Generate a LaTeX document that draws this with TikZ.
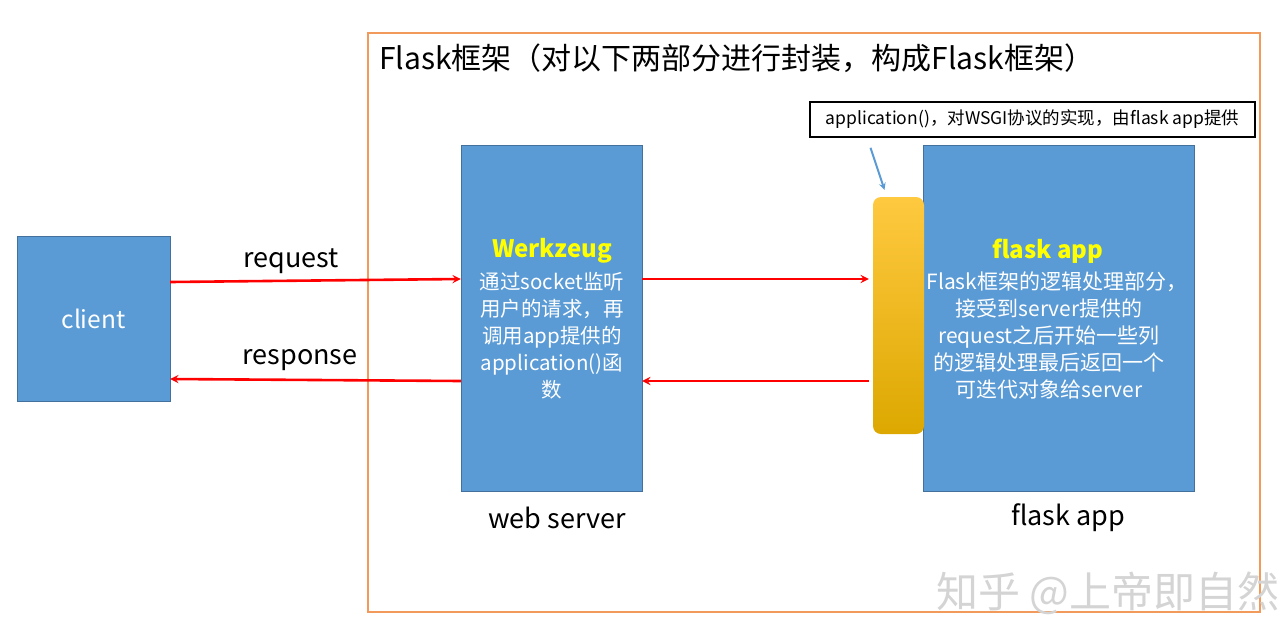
\documentclass[tikz,border=0pt]{standalone}
\usepackage{fontspec}
\setmainfont{Noto Sans CJK SC}
\definecolor{boxblue}{HTML}{5B9BD5}
\definecolor{boxedge}{HTML}{41719C}
\definecolor{frameorange}{HTML}{F19A5B}
\definecolor{flowred}{HTML}{FF0000}
\definecolor{headyellow}{HTML}{FFFF00}
\definecolor{markgray}{HTML}{D4D4D4}
\definecolor{wsgitop}{HTML}{FFC940}
\definecolor{wsgimid}{HTML}{FFC000}
\definecolor{wsgibot}{HTML}{DCA800}

\begin{document}
\begin{tikzpicture}[x=1pt,y=-1pt,>=stealth,
  blk/.style={draw=boxedge,fill=boxblue,inner sep=0pt,text=white},
  flow/.style={draw=flowred,line width=2.6pt},
  big/.style={font=\fontsize{27}{30}\selectfont,inner sep=0pt},
  head/.style={font=\fontsize{24}{28}\selectfont\bfseries,text=headyellow,inner sep=0pt},
  body/.style={text=white,align=center,inner sep=0pt}]
\useasboundingbox (0,0) rectangle (1288,627);

% framework border
\draw[frameorange,line width=1.4pt] (368,33) rectangle (1260,612);
\node[font=\fontsize{30}{34}\selectfont,inner sep=0pt,anchor=west] (title) at (379,58) {Flask框架（对以下两部分进行封装，构成Flask框架）};

% boxes
\node[blk,minimum width=153,minimum height=165,font=\fontsize{24.5}{28}\selectfont] (client) at (93.5,318.5) {client};
\node[blk,minimum width=181,minimum height=346] (werk) at (551.5,318) {};
\node[blk,minimum width=271,minimum height=346] (app) at (1058.5,318) {};
\node[draw=none,rounded corners=8pt,minimum width=51,minimum height=237,
      top color=wsgitop,middle color=wsgimid,bottom color=wsgibot] (wsgi) at (898.5,315.5) {};
\node[draw=black,line width=1.6pt,fill=white,minimum width=445,minimum height=35,inner sep=0pt,
      font=\fontsize{17.5}{20}\selectfont] (note) at (1032.5,119.5) {application()，对WSGI协议的实现，由flask app提供};

% texts in boxes
\node[head] (whead) at (552,251) {Werkzeug};
\node[body,font=\fontsize{20.5}{27}\selectfont] (wtext) at (552,336) {通过socket监听\\用户的请求，再\\调用app提供的\\application()函\\数};
\node[head] (ahead) at (1048,251) {flask app};
\node[body,font=\fontsize{21}{26.8}\selectfont] (atext) at (1049,335.5) {\hspace*{16pt}Flask框架的逻辑处理部分，\\接受到server提供的\\request之后开始一些列\\的逻辑处理最后返回一个\\可迭代对象给server};

% captions
\node[big] (req) at (291,261) {request};
\node[big] (resp) at (300,360) {response};
\node[big] (wcap) at (557,518) {web server};
\node[big] (acap) at (1068,518) {flask app};

% arrows
\path[flow,->] ([yshift=36.5]client.east) -- ([yshift=39]werk.west);
\path[flow,->] ([yshift=-63]werk.west) -- ([yshift=-60.5]client.east);
\path[flow,->] ([yshift=39]werk.east) -- ([xshift=-4,yshift=36.5]wsgi.west);
\path[flow,->] ([xshift=-4,yshift=-65.5]wsgi.west) -- ([yshift=-63]werk.east);
\path[draw=boxblue,line width=2pt,->] ([xshift=-162,yshift=-10]note.south) -- ([xshift=-14,yshift=7]wsgi.north);

% watermark
\node[font=\fontsize{42}{44}\selectfont,text=markgray,inner sep=0pt] (mark) at (1108,593) {知乎 @上帝即自然};
\end{tikzpicture}
\end{document}
